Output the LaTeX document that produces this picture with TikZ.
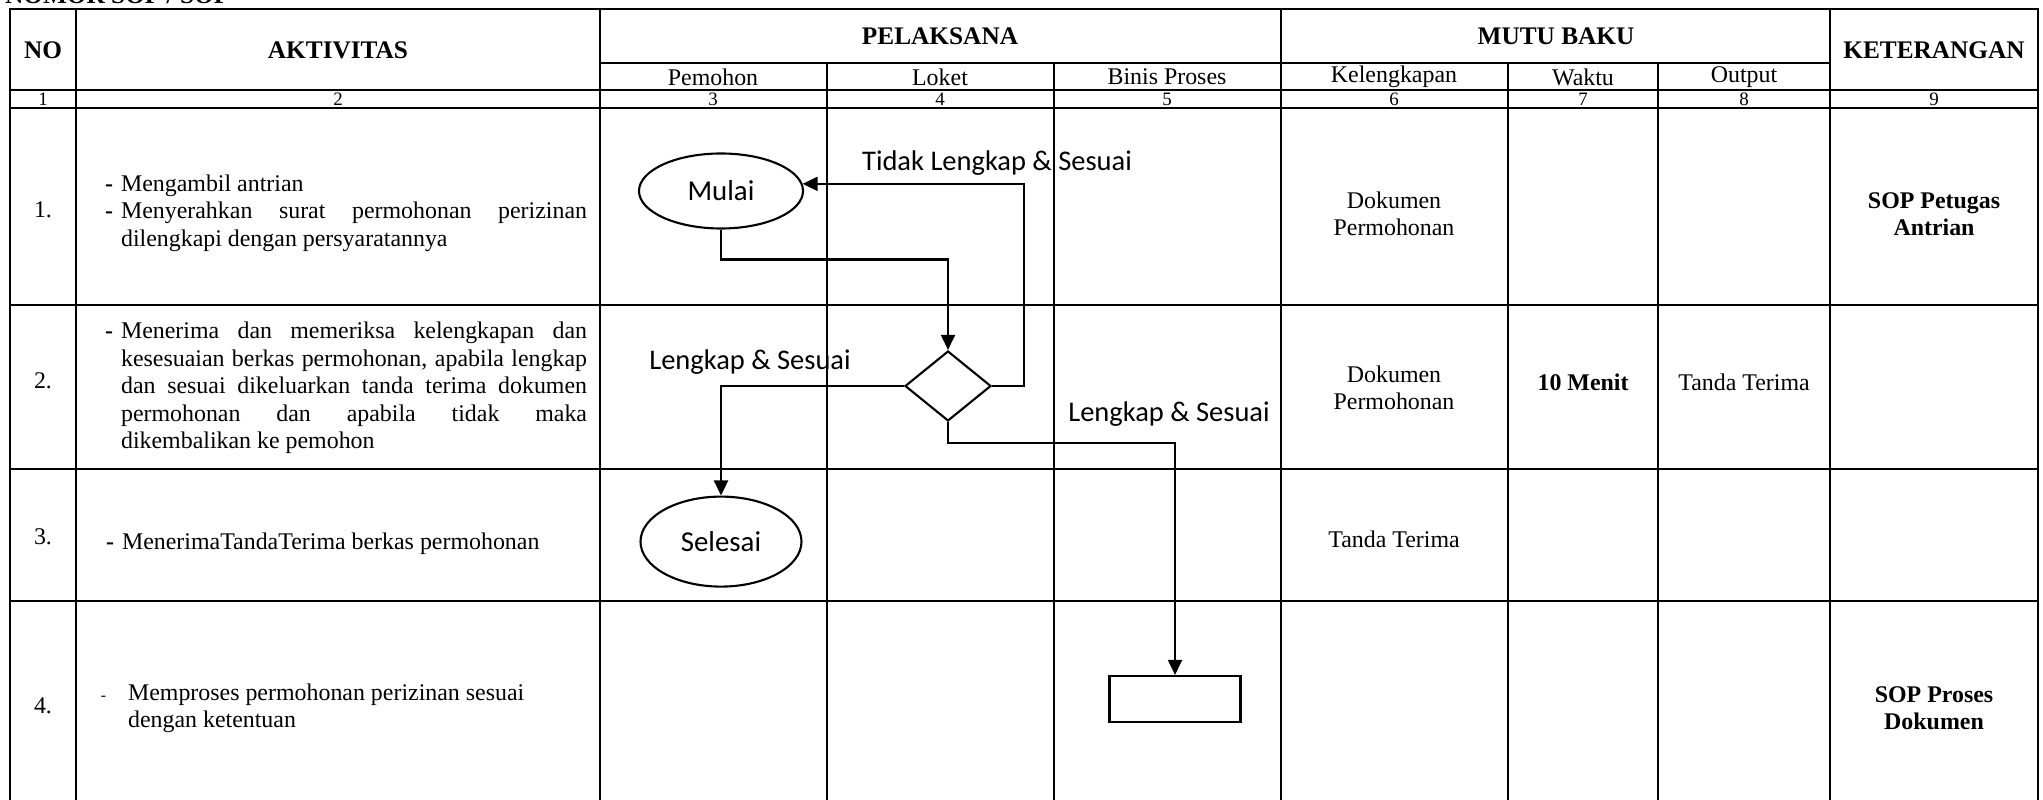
\documentclass[tikz,border=0pt]{standalone}
\usepackage{fontspec}
\setmainfont{Liberation Serif}
\newfontfamily\calibri{Carlito}
\newlength{\termgap}
\usepackage{tikz}
\usetikzlibrary{positioning}
\usetikzlibrary{arrows.meta}
\usetikzlibrary{shapes.geometric}
\setlength{\parindent}{0pt}
\hyphenpenalty=10000
\exhyphenpenalty=10000
\tikzstyle{grid}=[line width=0.7pt, line cap=rect]
\tikzstyle{txt}=[align=center, font=\fontsize{6.8}{7.8}\selectfont]
\tikzstyle{txtb}=[align=center, font=\fontsize{6.8}{7.8}\selectfont\bfseries]
\tikzstyle{numtxt}=[font=\fontsize{5.4}{6}\selectfont]
\tikzstyle{hdr}=[align=center, font=\fontsize{7.2}{8.4}\selectfont\bfseries]
\tikzstyle{desc}=[anchor=west, text width=46.6mm, align=justify, font=\fontsize{6.8}{7.8}\selectfont]
\tikzstyle{term}=[draw, ellipse, font=\calibri\fontsize{8.2}{9.5}\selectfont]
\tikzstyle{cond}=[draw, diamond, minimum width=8.6mm, minimum height=7mm]
\tikzstyle{proc}=[draw, rectangle, minimum width=13.1mm, minimum height=4.6mm]
\tikzstyle{lbl}=[font=\calibri\fontsize{8.1}{9.5}\selectfont]
\tikzstyle{flow}=[-{Triangle[length=4.3pt, width=4pt]}]
\newcommand{\dashitem}{\leavevmode\llap{\textbf{-}\hspace{0.8mm}}}

\begin{document}
\begin{tikzpicture}[x=0.1mm, y=-0.1mm, inner sep=0cm, line width=0.6pt]

\setlength{\termgap}{26.6mm}
\useasboundingbox (0,0) rectangle (2043,800);

% title line, cut by the page edge
\node (title) [anchor=base west, font=\fontsize{7.2}{8}\selectfont\bfseries] at (4,4) {NOMOR SOP / SOP};

% table
\draw [grid] (10,9) -- (2038,9);
\draw [grid] (600,63) -- (1830,63);
\foreach \y in {90,108,305,469,601}
  \draw [grid] (10,\y) -- (2038,\y);
\foreach \x in {10,76,600,1281,1830,2038}
  \draw [grid] (\x,9) -- (\x,806);
\foreach \x in {827,1054,1508,1658}
  \draw [grid] (\x,63) -- (\x,806);

% head
\node (hno) [hdr] at (43,50) {NO};
\node (hakt) [hdr] at (338,50) {AKTIVITAS};
\node (hpel) [hdr] at (940,36) {PELAKSANA};
\node (hmutu) [hdr] at (1556,36) {MUTU BAKU};
\node (hket) [hdr] at (1934,50) {KETERANGAN};
\node (spemohon) [txt] at (713,77) {Pemohon};
\node (sloket) [txt] at (940,77) {Loket};
\node (sbinis) [txt] at (1167,77) {Binis Proses};
\node (skel) [txt] at (1394,77) {Kelengkapan};
\node (swaktu) [txt] at (1583,77) {Waktu};
\node (soutput) [txt] at (1744,77) {Output};
\foreach \n/\x in {1/43,2/338,3/713,4/940,5/1167,6/1394,7/1583,8/1744,9/1934}
  \node (num\n) [numtxt] at (\x,99) {\n};

% rows
\node (no1) [txt] at (43,210) {1.};
\node (no2) [txt] at (43,381) {2.};
\node (no3) [txt] at (43,537) {3.};
\node (no4) [txt] at (43,706) {4.};

\node (akt1) [desc] at (120,213) {\dashitem Mengambil antrian\\
  \dashitem Menyerahkan surat permohonan perizinan\linebreak dilengkapi dengan persyaratannya};
\node (akt2) [desc] at (120,388) {\dashitem Menerima dan memeriksa kelengkapan dan\linebreak
  kesesuaian berkas permohonan, apabila lengkap\linebreak
  dan sesuai dikeluarkan tanda terima dokumen\linebreak
  permohonan dan apabila tidak maka\linebreak dikembalikan ke pemohon};
\node (akt3) [anchor=west, font=\fontsize{6.8}{7.8}\selectfont] at (121,544) {\dashitem MenerimaTandaTerima berkas permohonan};
\node (akt4) [anchor=west, align=left, font=\fontsize{6.8}{7.8}\selectfont] at (127,708)
  {\leavevmode\llap{\fontsize{4.5}{5}\selectfont -\hspace{2.2mm}}Memproses permohonan perizinan sesuai\\dengan ketentuan};

\node (kel1) [txt] at (1394,214) {Dokumen\\Permohonan};
\node (kel2) [txt] at (1394,388) {Dokumen\\Permohonan};
\node (kel3) [txt] at (1394,539) {Tanda Terima};
\node (waktu2) [txtb] at (1583,382) {10 Menit};
\node (out2) [txt] at (1744,382) {Tanda Terima};
\node (ket1) [txtb] at (1934,214) {SOP Petugas\\Antrian};
\node (ket4) [txtb] at (1934,708) {SOP Proses\\Dokumen};

% flow
\node (mulai) [term, minimum width=16.4mm, minimum height=7.5mm] at (721,191) {Mulai};
\node (selesai) [term, minimum width=16.1mm, minimum height=9mm, below=\termgap of mulai] {Selesai};
\node (cek) [cond] at (948,386) {};
\node (proses) [proc] at (1175,699) {};

\draw [flow] (mulai.south) -- ++(0,30) -| (cek.north);
\draw [flow] (cek.east) -- ++(32,0) |- (mulai.5);
\draw [flow] (cek.west) -| (selesai.north);
\draw [flow] (cek.south) -- ++(0,21) -| (proses.north);

\node (ltidak) [lbl] at (997,163) {Tidak Lengkap \& Sesuai};
\node (lkiri) [lbl] at (750,362) {Lengkap \& Sesuai};
\node (lbawah) [lbl] at (1169,414) {Lengkap \& Sesuai};
\end{tikzpicture}
\end{document}
